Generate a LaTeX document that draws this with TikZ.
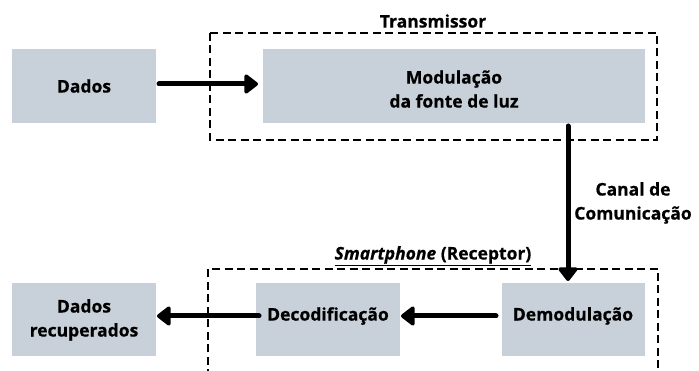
\documentclass[tikz,border=0pt]{standalone}
\usepackage{fontspec}
\setmainfont{Open Sans}[BoldFeatures={FakeBold=0.6},BoldItalicFeatures={FakeBold=0.6}]
\usetikzlibrary{arrows.meta}
\definecolor{boxgray}{RGB}{200,208,217}
\begin{document}
\begin{tikzpicture}[x=1pt,y=-1pt,
  font=\fontsize{17.5}{24}\selectfont\bfseries,
  block/.style={fill=boxgray,draw=none,align=center},
  frame/.style={draw=black,line width=2.2pt,dash pattern=on 8pt off 4.5pt},
  flow/.style={line width=5pt,line cap=round,
    -{Triangle[length=15pt,width=22pt,round]}},
  lbl/.style={align=center,inner sep=0pt}]
\useasboundingbox (0,0) rectangle (699,371);

% dashed enclosures
\draw[frame] (210,33) rectangle (657,140);
\draw[frame] (208,390) -- (208,269) -- (658,269) -- (658,390);

% blocks
\path[block] (12,49) rectangle (156,123);
\path[block] (263,49) rectangle (645,123);
\path[block] (12,283) rectangle (156,356);
\path[block] (256,283) rectangle (400,356);
\path[block] (502,283) rectangle (645,356);

\node[lbl] (dados) at (84,86) {Dados};
\node[lbl] (mod) at (454,89) {Modulação\\da fonte de luz};
\node[lbl] (rec) at (84,320) {Dados\\recuperados};
\node[lbl] (dec) at (328,316) {Decodificação};
\node[lbl] (demod) at (573,316) {Demodulação};

\node[lbl] (tx) at (433,21) {Transmissor};
\node[lbl] (rx) at (433,256) {\underline{\textit{Smartphone} (Receptor)}};
\node[lbl] (canal) at (633,203) {Canal de\\Comunicação};

% connections
\coordinate (a1) at (159,84);
\coordinate (a2) at (258,84);
\coordinate (b1) at (568,126);
\coordinate (b2) at (568,281);
\coordinate (c1) at (496,316);
\coordinate (c2) at (401,316);
\coordinate (d1) at (259,316);
\coordinate (d2) at (157,316);
\draw[flow] (a1) -- (a2);
\draw[flow] (b1) -- (b2);
\draw[flow] (c1) -- (c2);
\draw[flow] (d1) -- (d2);
\end{tikzpicture}
\end{document}
